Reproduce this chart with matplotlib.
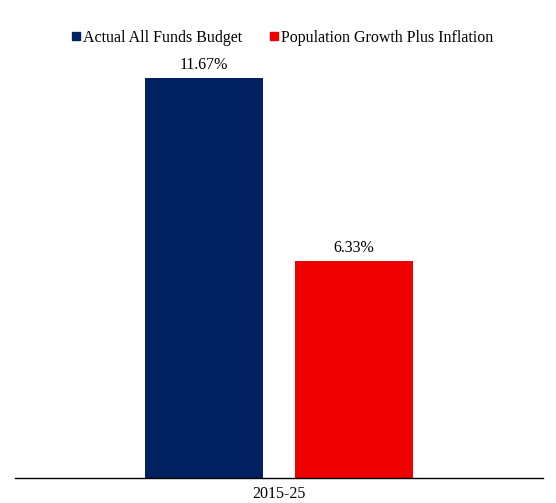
import matplotlib
matplotlib.use('Agg')
import matplotlib.pyplot as plt
from matplotlib.lines import Line2D

# data
series = ['Actual All Funds Budget', 'Population Growth Plus Inflation']
values = [11.67, 6.33]
colors = ['#002060', '#EE0000']
category = '2015-25'

plt.rcParams['font.family'] = ['Liberation Serif', 'DejaVu Serif']

fig = plt.figure(figsize=(5.56, 5.03), dpi=100)
ax = fig.add_axes([15 / 556, 25 / 503, 528 / 556, 0.8525])

width = 0.2235
offsets = [-0.142, 0.142]
for off, v, c in zip(offsets, values, colors):
    ax.bar(off, v, width=width, color=c)
    ax.text(off, v + 0.13, '%.2f%%' % v, ha='center', va='bottom', fontsize=11.5)

ax.set_xlim(-0.5, 0.5)
ax.set_ylim(0, 12.5)
ax.set_xticks([0])
ax.set_xticklabels([category], fontsize=11.5)
ax.tick_params(axis='x', length=0, pad=6)
ax.set_yticks([])
for s in ['top', 'right', 'left']:
    ax.spines[s].set_visible(False)
ax.spines['bottom'].set_linewidth(1.0)

handles = [Line2D([], [], marker='s', linestyle='none', color=c, markersize=5.2) for c in colors]
fig.legend(handles, series, loc='center', bbox_to_anchor=(0.506, 0.9245), ncol=2,
           frameon=False, fontsize=11.5, handletextpad=0.05, columnspacing=1.6, handlelength=0.8)

fig.savefig('out.png', dpi=100)
